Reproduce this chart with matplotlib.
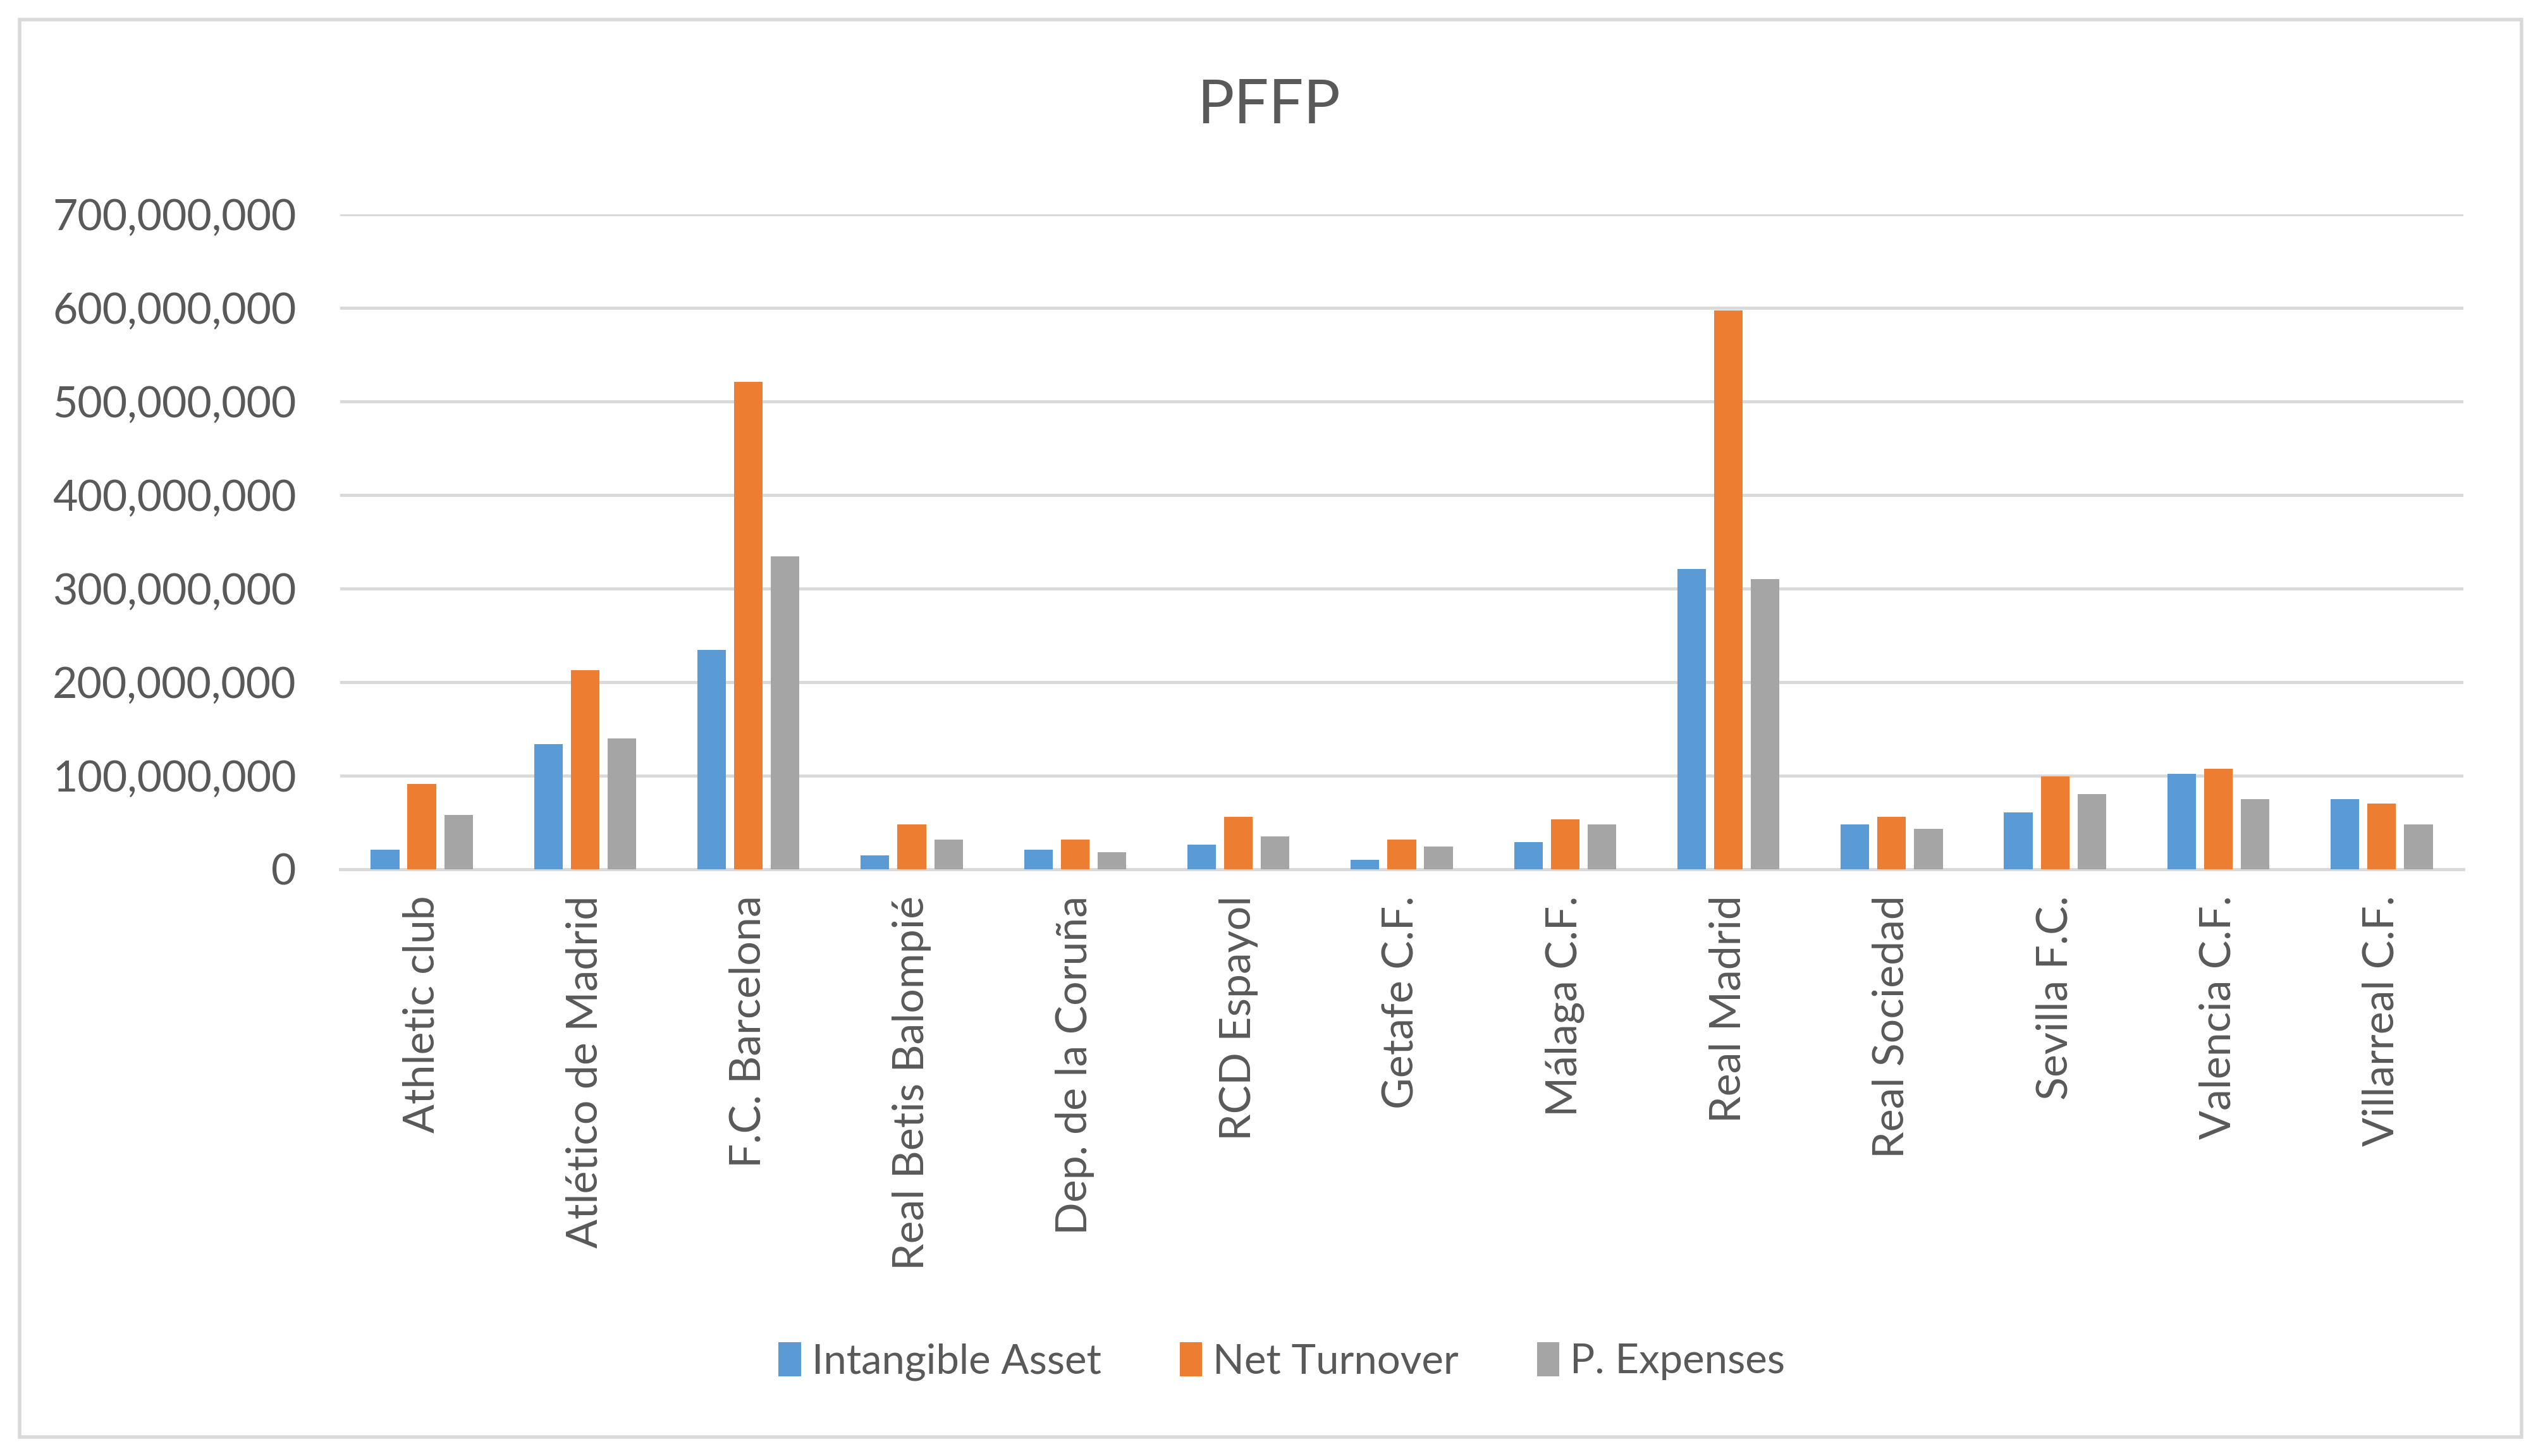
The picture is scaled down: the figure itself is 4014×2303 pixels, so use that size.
import matplotlib
matplotlib.use("Agg")
import matplotlib.pyplot as plt
from matplotlib import font_manager
from matplotlib.patches import Rectangle
import numpy as np

clubs = ["Athletic club", "Atlético de Madrid", "F.C. Barcelona", "Real Betis Balompié",
         "Dep. de la Coruña", "RCD Espayol", "Getafe C.F.", "Málaga C.F.", "Real Madrid",
         "Real Sociedad", "Sevilla F.C.", "Valencia C.F.", "Villarreal C.F."]
intangible_asset = [21e6, 134e6, 234e6, 15e6, 21e6, 26e6, 10e6, 29e6, 321e6, 48e6, 61e6, 102e6, 75e6]
net_turnover = [91e6, 213e6, 521e6, 48e6, 32e6, 56e6, 32e6, 53e6, 597e6, 56e6, 99e6, 107e6, 70e6]
p_expenses = [58e6, 140e6, 334e6, 32e6, 18e6, 35e6, 24e6, 48e6, 310e6, 43e6, 80e6, 75e6, 48e6]
series_names = ["Intangible Asset", "Net Turnover", "P. Expenses"]
colors = ["#5B9BD5", "#ED7D31", "#A5A5A5"]
yticks = np.arange(0, 700e6 + 1, 100e6)

available = {f.name for f in font_manager.fontManager.ttflist}
fam = None
for cand in ["Lato", "Noto Sans", "DejaVu Sans"]:
    if cand in available:
        fam = cand
        break
plt.rcParams['font.family'] = [fam, 'DejaVu Sans']
text_color = "#595959"

fig = plt.figure(figsize=(40.14, 23.03), dpi=100)
ax = fig.add_axes([0.134, 0.403, 0.8366, 0.45])

x = np.arange(len(clubs))
w = 0.175
off = 0.225
for i, (vals, name, c) in enumerate(zip([intangible_asset, net_turnover, p_expenses], series_names, colors)):
    ax.bar(x + (i - 1) * off, vals, width=w, color=c, label=name, zorder=3)

ax.set_xlim(-0.5, len(clubs) - 0.5)
ax.set_ylim(0, 700e6)
ax.set_yticks(yticks)
ax.set_yticklabels([f"{int(v):,}" for v in yticks])
ax.set_xticks(x)
ax.set_xticklabels(clubs, rotation=90)
ax.grid(axis='y', color="#D9D9D9", linewidth=3.5, zorder=0)
for s in ["top", "right", "left"]:
    ax.spines[s].set_visible(False)
ax.spines["bottom"].set_color("#D9D9D9")
ax.spines["bottom"].set_linewidth(3.5)
ax.tick_params(axis='both', length=0, labelsize=49, colors=text_color)
ax.tick_params(axis='y', pad=50)
ax.tick_params(axis='x', pad=30)

fig.text(0.5, 0.927, "PFFP", ha='center', va='center', fontsize=70, color=text_color)

leg = fig.legend(loc='center', bbox_to_anchor=(0.505, 0.065), ncol=3, frameon=False,
                 fontsize=47, handlelength=0.55, handleheight=0.9, handletextpad=0.25,
                 columnspacing=1.9)
for t in leg.get_texts():
    t.set_color(text_color)

fig.patches.append(Rectangle((0.0077, 0.013), 0.9858, 0.9735, transform=fig.transFigure,
                             fill=False, edgecolor="#D9D9D9", linewidth=4))

fig.savefig("out.png", dpi=100, facecolor="white")
